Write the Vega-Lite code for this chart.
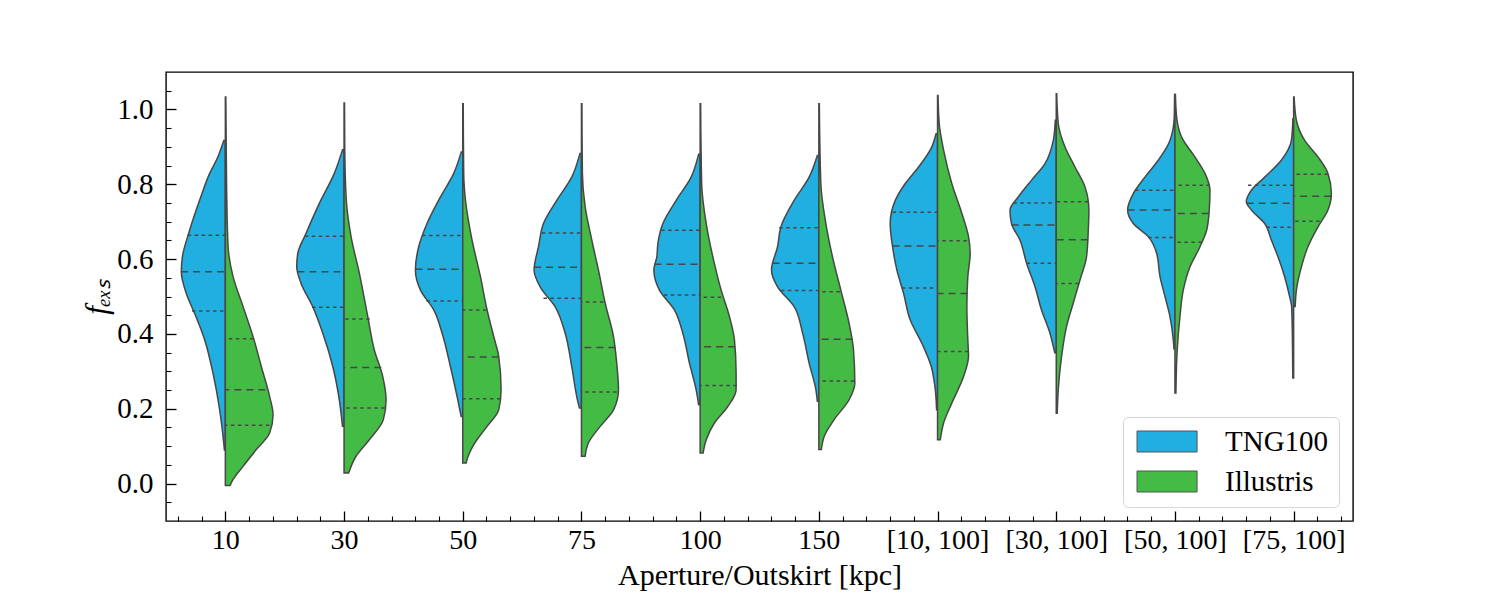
{
  "$schema": "https://vega.github.io/schema/vega-lite/v6.json",
  "width": 1187,
  "height": 449,
  "autosize": {"type": "none"},
  "padding": {"left": 166, "top": 72, "right": 154, "bottom": 75},
  "background": "white",
  "config": {
    "view": {"stroke": "black", "strokeWidth": 1.4},
    "font": "Liberation Serif"
  },
  "datasets": {
    "violins": [
      {"i":0,"g":"TNG100","f":0.917,"x":-0.013},{"i":0,"g":"TNG100","f":0.87,"x":-0.067},{"i":0,"g":"TNG100","f":0.829,"x":-0.132},{"i":0,"g":"TNG100","f":0.757,"x":-0.217},{"i":0,"g":"TNG100","f":0.677,"x":-0.301},{"i":0,"g":"TNG100","f":0.606,"x":-0.362},{"i":0,"g":"TNG100","f":0.566,"x":-0.371},{"i":0,"g":"TNG100","f":0.508,"x":-0.329},{"i":0,"g":"TNG100","f":0.455,"x":-0.259},{"i":0,"g":"TNG100","f":0.384,"x":-0.174},{"i":0,"g":"TNG100","f":0.295,"x":-0.104},{"i":0,"g":"TNG100","f":0.197,"x":-0.048},{"i":0,"g":"TNG100","f":0.1,"x":-0.011},{"i":0,"g":"TNG100","f":0.09,"x":-0.008},
      {"i":0,"g":"Illustris","f":1.033,"x":0.004},{"i":0,"g":"Illustris","f":0.962,"x":0.006},{"i":0,"g":"Illustris","f":0.784,"x":0.011},{"i":0,"g":"Illustris","f":0.633,"x":0.023},{"i":0,"g":"Illustris","f":0.553,"x":0.065},{"i":0,"g":"Illustris","f":0.473,"x":0.149},{"i":0,"g":"Illustris","f":0.388,"x":0.238},{"i":0,"g":"Illustris","f":0.313,"x":0.303},{"i":0,"g":"Illustris","f":0.233,"x":0.373},{"i":0,"g":"Illustris","f":0.184,"x":0.402},{"i":0,"g":"Illustris","f":0.135,"x":0.373},{"i":0,"g":"Illustris","f":0.091,"x":0.261},{"i":0,"g":"Illustris","f":0.046,"x":0.149},{"i":0,"g":"Illustris","f":0.011,"x":0.065},{"i":0,"g":"Illustris","f":-0.005,"x":0.04},
      {"i":1,"g":"TNG100","f":0.892,"x":0.987},{"i":1,"g":"TNG100","f":0.829,"x":0.918},{"i":1,"g":"TNG100","f":0.749,"x":0.792},{"i":1,"g":"TNG100","f":0.669,"x":0.68},{"i":1,"g":"TNG100","f":0.615,"x":0.61},{"i":1,"g":"TNG100","f":0.58,"x":0.601},{"i":1,"g":"TNG100","f":0.535,"x":0.638},{"i":1,"g":"TNG100","f":0.473,"x":0.736},{"i":1,"g":"TNG100","f":0.402,"x":0.821},{"i":1,"g":"TNG100","f":0.313,"x":0.905},{"i":1,"g":"TNG100","f":0.224,"x":0.96},{"i":1,"g":"TNG100","f":0.153,"x":0.987},
      {"i":1,"g":"Illustris","f":1.017,"x":1.004},{"i":1,"g":"Illustris","f":0.893,"x":1.006},{"i":1,"g":"Illustris","f":0.757,"x":1.019},{"i":1,"g":"Illustris","f":0.66,"x":1.059},{"i":1,"g":"Illustris","f":0.562,"x":1.129},{"i":1,"g":"Illustris","f":0.446,"x":1.2},{"i":1,"g":"Illustris","f":0.357,"x":1.255},{"i":1,"g":"Illustris","f":0.286,"x":1.326},{"i":1,"g":"Illustris","f":0.224,"x":1.354},{"i":1,"g":"Illustris","f":0.171,"x":1.331},{"i":1,"g":"Illustris","f":0.117,"x":1.213},{"i":1,"g":"Illustris","f":0.073,"x":1.101},{"i":1,"g":"Illustris","f":0.028,"x":1.038},
      {"i":2,"g":"TNG100","f":0.886,"x":1.987},{"i":2,"g":"TNG100","f":0.829,"x":1.924},{"i":2,"g":"TNG100","f":0.766,"x":1.812},{"i":2,"g":"TNG100","f":0.695,"x":1.699},{"i":2,"g":"TNG100","f":0.633,"x":1.629},{"i":2,"g":"TNG100","f":0.571,"x":1.601},{"i":2,"g":"TNG100","f":0.517,"x":1.644},{"i":2,"g":"TNG100","f":0.464,"x":1.756},{"i":2,"g":"TNG100","f":0.402,"x":1.826},{"i":2,"g":"TNG100","f":0.313,"x":1.896},{"i":2,"g":"TNG100","f":0.233,"x":1.952},{"i":2,"g":"TNG100","f":0.179,"x":1.987},
      {"i":2,"g":"Illustris","f":1.015,"x":2.004},{"i":2,"g":"Illustris","f":0.829,"x":2.008},{"i":2,"g":"Illustris","f":0.757,"x":2.023},{"i":2,"g":"Illustris","f":0.651,"x":2.078},{"i":2,"g":"Illustris","f":0.553,"x":2.149},{"i":2,"g":"Illustris","f":0.464,"x":2.205},{"i":2,"g":"Illustris","f":0.393,"x":2.261},{"i":2,"g":"Illustris","f":0.34,"x":2.303},{"i":2,"g":"Illustris","f":0.251,"x":2.323},{"i":2,"g":"Illustris","f":0.197,"x":2.303},{"i":2,"g":"Illustris","f":0.153,"x":2.205},{"i":2,"g":"Illustris","f":0.104,"x":2.093},{"i":2,"g":"Illustris","f":0.064,"x":2.036},{"i":2,"g":"Illustris","f":0.055,"x":2.029},
      {"i":3,"g":"TNG100","f":0.882,"x":2.987},{"i":3,"g":"TNG100","f":0.819,"x":2.918},{"i":3,"g":"TNG100","f":0.757,"x":2.792},{"i":3,"g":"TNG100","f":0.695,"x":2.68},{"i":3,"g":"TNG100","f":0.633,"x":2.638},{"i":3,"g":"TNG100","f":0.571,"x":2.601},{"i":3,"g":"TNG100","f":0.526,"x":2.652},{"i":3,"g":"TNG100","f":0.473,"x":2.778},{"i":3,"g":"TNG100","f":0.402,"x":2.863},{"i":3,"g":"TNG100","f":0.313,"x":2.918},{"i":3,"g":"TNG100","f":0.224,"x":2.966},{"i":3,"g":"TNG100","f":0.202,"x":2.983},
      {"i":3,"g":"Illustris","f":1.015,"x":3.004},{"i":3,"g":"Illustris","f":0.829,"x":3.008},{"i":3,"g":"Illustris","f":0.74,"x":3.031},{"i":3,"g":"Illustris","f":0.651,"x":3.087},{"i":3,"g":"Illustris","f":0.571,"x":3.143},{"i":3,"g":"Illustris","f":0.482,"x":3.2},{"i":3,"g":"Illustris","f":0.393,"x":3.27},{"i":3,"g":"Illustris","f":0.322,"x":3.297},{"i":3,"g":"Illustris","f":0.251,"x":3.312},{"i":3,"g":"Illustris","f":0.197,"x":3.27},{"i":3,"g":"Illustris","f":0.153,"x":3.158},{"i":3,"g":"Illustris","f":0.109,"x":3.059},{"i":3,"g":"Illustris","f":0.073,"x":3.031},
      {"i":4,"g":"TNG100","f":0.88,"x":3.987},{"i":4,"g":"TNG100","f":0.819,"x":3.924},{"i":4,"g":"TNG100","f":0.757,"x":3.798},{"i":4,"g":"TNG100","f":0.695,"x":3.686},{"i":4,"g":"TNG100","f":0.642,"x":3.644},{"i":4,"g":"TNG100","f":0.606,"x":3.635},{"i":4,"g":"TNG100","f":0.571,"x":3.61},{"i":4,"g":"TNG100","f":0.517,"x":3.657},{"i":4,"g":"TNG100","f":0.464,"x":3.783},{"i":4,"g":"TNG100","f":0.402,"x":3.854},{"i":4,"g":"TNG100","f":0.322,"x":3.91},{"i":4,"g":"TNG100","f":0.251,"x":3.966},{"i":4,"g":"TNG100","f":0.211,"x":3.987},
      {"i":4,"g":"Illustris","f":1.015,"x":4.004},{"i":4,"g":"Illustris","f":0.8,"x":4.013},{"i":4,"g":"Illustris","f":0.695,"x":4.051},{"i":4,"g":"Illustris","f":0.606,"x":4.107},{"i":4,"g":"Illustris","f":0.517,"x":4.177},{"i":4,"g":"Illustris","f":0.446,"x":4.247},{"i":4,"g":"Illustris","f":0.384,"x":4.289},{"i":4,"g":"Illustris","f":0.295,"x":4.303},{"i":4,"g":"Illustris","f":0.251,"x":4.303},{"i":4,"g":"Illustris","f":0.206,"x":4.233},{"i":4,"g":"Illustris","f":0.162,"x":4.12},{"i":4,"g":"Illustris","f":0.117,"x":4.051},{"i":4,"g":"Illustris","f":0.082,"x":4.025},
      {"i":5,"g":"TNG100","f":0.877,"x":4.987},{"i":5,"g":"TNG100","f":0.819,"x":4.918},{"i":5,"g":"TNG100","f":0.757,"x":4.792},{"i":5,"g":"TNG100","f":0.686,"x":4.68},{"i":5,"g":"TNG100","f":0.633,"x":4.652},{"i":5,"g":"TNG100","f":0.571,"x":4.601},{"i":5,"g":"TNG100","f":0.526,"x":4.652},{"i":5,"g":"TNG100","f":0.473,"x":4.792},{"i":5,"g":"TNG100","f":0.402,"x":4.863},{"i":5,"g":"TNG100","f":0.322,"x":4.918},{"i":5,"g":"TNG100","f":0.251,"x":4.975},{"i":5,"g":"TNG100","f":0.22,"x":4.987},
      {"i":5,"g":"Illustris","f":1.015,"x":5.004},{"i":5,"g":"Illustris","f":0.8,"x":5.017},{"i":5,"g":"Illustris","f":0.695,"x":5.059},{"i":5,"g":"Illustris","f":0.606,"x":5.115},{"i":5,"g":"Illustris","f":0.517,"x":5.185},{"i":5,"g":"Illustris","f":0.428,"x":5.255},{"i":5,"g":"Illustris","f":0.357,"x":5.292},{"i":5,"g":"Illustris","f":0.268,"x":5.303},{"i":5,"g":"Illustris","f":0.224,"x":5.255},{"i":5,"g":"Illustris","f":0.171,"x":5.129},{"i":5,"g":"Illustris","f":0.126,"x":5.045},{"i":5,"g":"Illustris","f":0.091,"x":5.021},
      {"i":6,"g":"TNG100","f":0.935,"x":5.987},{"i":6,"g":"TNG100","f":0.9,"x":5.952},{"i":6,"g":"TNG100","f":0.846,"x":5.84},{"i":6,"g":"TNG100","f":0.802,"x":5.728},{"i":6,"g":"TNG100","f":0.757,"x":5.644},{"i":6,"g":"TNG100","f":0.695,"x":5.601},{"i":6,"g":"TNG100","f":0.633,"x":5.621},{"i":6,"g":"TNG100","f":0.571,"x":5.657},{"i":6,"g":"TNG100","f":0.508,"x":5.714},{"i":6,"g":"TNG100","f":0.437,"x":5.77},{"i":6,"g":"TNG100","f":0.375,"x":5.868},{"i":6,"g":"TNG100","f":0.313,"x":5.947},{"i":6,"g":"TNG100","f":0.251,"x":5.981},{"i":6,"g":"TNG100","f":0.197,"x":5.992},
      {"i":6,"g":"Illustris","f":1.037,"x":6.004},{"i":6,"g":"Illustris","f":0.962,"x":6.014},{"i":6,"g":"Illustris","f":0.891,"x":6.051},{"i":6,"g":"Illustris","f":0.802,"x":6.12},{"i":6,"g":"Illustris","f":0.722,"x":6.205},{"i":6,"g":"Illustris","f":0.66,"x":6.261},{"i":6,"g":"Illustris","f":0.615,"x":6.275},{"i":6,"g":"Illustris","f":0.553,"x":6.255},{"i":6,"g":"Illustris","f":0.473,"x":6.247},{"i":6,"g":"Illustris","f":0.384,"x":6.255},{"i":6,"g":"Illustris","f":0.34,"x":6.261},{"i":6,"g":"Illustris","f":0.286,"x":6.219},{"i":6,"g":"Illustris","f":0.215,"x":6.12},{"i":6,"g":"Illustris","f":0.162,"x":6.051},{"i":6,"g":"Illustris","f":0.117,"x":6.023},
      {"i":7,"g":"TNG100","f":0.971,"x":6.992},{"i":7,"g":"TNG100","f":0.917,"x":6.975},{"i":7,"g":"TNG100","f":0.855,"x":6.905},{"i":7,"g":"TNG100","f":0.811,"x":6.792},{"i":7,"g":"TNG100","f":0.766,"x":6.68},{"i":7,"g":"TNG100","f":0.731,"x":6.61},{"i":7,"g":"TNG100","f":0.695,"x":6.623},{"i":7,"g":"TNG100","f":0.651,"x":6.694},{"i":7,"g":"TNG100","f":0.589,"x":6.75},{"i":7,"g":"TNG100","f":0.526,"x":6.821},{"i":7,"g":"TNG100","f":0.464,"x":6.876},{"i":7,"g":"TNG100","f":0.402,"x":6.947},{"i":7,"g":"TNG100","f":0.35,"x":6.987},
      {"i":7,"g":"Illustris","f":1.042,"x":7.004},{"i":7,"g":"Illustris","f":0.962,"x":7.017},{"i":7,"g":"Illustris","f":0.9,"x":7.073},{"i":7,"g":"Illustris","f":0.846,"x":7.158},{"i":7,"g":"Illustris","f":0.793,"x":7.242},{"i":7,"g":"Illustris","f":0.731,"x":7.275},{"i":7,"g":"Illustris","f":0.677,"x":7.27},{"i":7,"g":"Illustris","f":0.606,"x":7.255},{"i":7,"g":"Illustris","f":0.544,"x":7.2},{"i":7,"g":"Illustris","f":0.482,"x":7.143},{"i":7,"g":"Illustris","f":0.42,"x":7.087},{"i":7,"g":"Illustris","f":0.34,"x":7.045},{"i":7,"g":"Illustris","f":0.251,"x":7.017},{"i":7,"g":"Illustris","f":0.188,"x":7.008},
      {"i":8,"g":"TNG100","f":1.04,"x":7.997},{"i":8,"g":"TNG100","f":0.98,"x":7.994},{"i":8,"g":"TNG100","f":0.917,"x":7.958},{"i":8,"g":"TNG100","f":0.864,"x":7.859},{"i":8,"g":"TNG100","f":0.819,"x":7.747},{"i":8,"g":"TNG100","f":0.775,"x":7.649},{"i":8,"g":"TNG100","f":0.731,"x":7.601},{"i":8,"g":"TNG100","f":0.695,"x":7.649},{"i":8,"g":"TNG100","f":0.66,"x":7.775},{"i":8,"g":"TNG100","f":0.615,"x":7.846},{"i":8,"g":"TNG100","f":0.553,"x":7.874},{"i":8,"g":"TNG100","f":0.5,"x":7.916},{"i":8,"g":"TNG100","f":0.446,"x":7.958},{"i":8,"g":"TNG100","f":0.384,"x":7.986},{"i":8,"g":"TNG100","f":0.36,"x":7.992},
      {"i":8,"g":"Illustris","f":1.04,"x":8.004},{"i":8,"g":"Illustris","f":0.98,"x":8.014},{"i":8,"g":"Illustris","f":0.926,"x":8.056},{"i":8,"g":"Illustris","f":0.873,"x":8.168},{"i":8,"g":"Illustris","f":0.829,"x":8.253},{"i":8,"g":"Illustris","f":0.784,"x":8.295},{"i":8,"g":"Illustris","f":0.731,"x":8.289},{"i":8,"g":"Illustris","f":0.677,"x":8.267},{"i":8,"g":"Illustris","f":0.633,"x":8.211},{"i":8,"g":"Illustris","f":0.579,"x":8.126},{"i":8,"g":"Illustris","f":0.517,"x":8.07},{"i":8,"g":"Illustris","f":0.446,"x":8.042},{"i":8,"g":"Illustris","f":0.357,"x":8.019},{"i":8,"g":"Illustris","f":0.242,"x":8.008},
      {"i":9,"g":"TNG100","f":0.975,"x":8.994},{"i":9,"g":"TNG100","f":0.917,"x":8.981},{"i":9,"g":"TNG100","f":0.864,"x":8.896},{"i":9,"g":"TNG100","f":0.819,"x":8.756},{"i":9,"g":"TNG100","f":0.784,"x":8.644},{"i":9,"g":"TNG100","f":0.753,"x":8.601},{"i":9,"g":"TNG100","f":0.731,"x":8.644},{"i":9,"g":"TNG100","f":0.695,"x":8.756},{"i":9,"g":"TNG100","f":0.651,"x":8.812},{"i":9,"g":"TNG100","f":0.606,"x":8.868},{"i":9,"g":"TNG100","f":0.553,"x":8.924},{"i":9,"g":"TNG100","f":0.5,"x":8.966},{"i":9,"g":"TNG100","f":0.473,"x":8.983},{"i":9,"g":"TNG100","f":0.38,"x":8.99},{"i":9,"g":"TNG100","f":0.282,"x":8.993},
      {"i":9,"g":"Illustris","f":1.033,"x":9.004},{"i":9,"g":"Illustris","f":0.971,"x":9.023},{"i":9,"g":"Illustris","f":0.917,"x":9.093},{"i":9,"g":"Illustris","f":0.873,"x":9.205},{"i":9,"g":"Illustris","f":0.829,"x":9.289},{"i":9,"g":"Illustris","f":0.775,"x":9.318},{"i":9,"g":"Illustris","f":0.731,"x":9.289},{"i":9,"g":"Illustris","f":0.686,"x":9.205},{"i":9,"g":"Illustris","f":0.633,"x":9.12},{"i":9,"g":"Illustris","f":0.579,"x":9.065},{"i":9,"g":"Illustris","f":0.517,"x":9.023},{"i":9,"g":"Illustris","f":0.473,"x":9.013}
    ],
    "quartiles": [
      {"i":0,"q":"q","f":0.664,"x":-0.318},{"i":0,"q":"m","f":0.566,"x":-0.373},{"i":0,"q":"q","f":0.461,"x":-0.281},
      {"i":0,"q":"q","f":0.387,"x":0.236},{"i":0,"q":"m","f":0.251,"x":0.337},{"i":0,"q":"q","f":0.156,"x":0.371},
      {"i":1,"q":"q","f":0.661,"x":0.669},{"i":1,"q":"m","f":0.566,"x":0.607},{"i":1,"q":"q","f":0.471,"x":0.73},
      {"i":1,"q":"q","f":0.44,"x":1.216},{"i":1,"q":"m","f":0.31,"x":1.314},{"i":1,"q":"q","f":0.202,"x":1.343},
      {"i":2,"q":"q","f":0.663,"x":1.657},{"i":2,"q":"m","f":0.573,"x":1.601},{"i":2,"q":"q","f":0.488,"x":1.694},
      {"i":2,"q":"q","f":0.464,"x":2.2},{"i":2,"q":"m","f":0.338,"x":2.303},{"i":2,"q":"q","f":0.227,"x":2.318},
      {"i":3,"q":"q","f":0.67,"x":2.666},{"i":3,"q":"m","f":0.578,"x":2.601},{"i":3,"q":"q","f":0.495,"x":2.68},
      {"i":3,"q":"q","f":0.485,"x":3.185},{"i":3,"q":"m","f":0.364,"x":3.286},{"i":3,"q":"q","f":0.245,"x":3.297},
      {"i":4,"q":"q","f":0.677,"x":3.671},{"i":4,"q":"m","f":0.586,"x":3.615},{"i":4,"q":"q","f":0.504,"x":3.694},
      {"i":4,"q":"q","f":0.498,"x":4.177},{"i":4,"q":"m","f":0.366,"x":4.295},{"i":4,"q":"q","f":0.262,"x":4.309},
      {"i":5,"q":"q","f":0.684,"x":4.666},{"i":5,"q":"m","f":0.589,"x":4.61},{"i":5,"q":"q","f":0.516,"x":4.68},
      {"i":5,"q":"q","f":0.513,"x":5.177},{"i":5,"q":"m","f":0.386,"x":5.284},{"i":5,"q":"q","f":0.274,"x":5.297},
      {"i":6,"q":"q","f":0.725,"x":5.621},{"i":6,"q":"m","f":0.635,"x":5.621},{"i":6,"q":"q","f":0.523,"x":5.699},
      {"i":6,"q":"q","f":0.649,"x":6.247},{"i":6,"q":"m","f":0.508,"x":6.253},{"i":6,"q":"q","f":0.353,"x":6.261},
      {"i":7,"q":"q","f":0.75,"x":6.638},{"i":7,"q":"m","f":0.691,"x":6.623},{"i":7,"q":"q","f":0.589,"x":6.75},
      {"i":7,"q":"q","f":0.753,"x":7.27},{"i":7,"q":"m","f":0.652,"x":7.265},{"i":7,"q":"q","f":0.535,"x":7.191},
      {"i":8,"q":"q","f":0.784,"x":7.663},{"i":8,"q":"m","f":0.731,"x":7.601},{"i":8,"q":"q","f":0.658,"x":7.775},
      {"i":8,"q":"q","f":0.797,"x":8.295},{"i":8,"q":"m","f":0.722,"x":8.286},{"i":8,"q":"q","f":0.645,"x":8.227},
      {"i":9,"q":"q","f":0.797,"x":8.615},{"i":9,"q":"m","f":0.749,"x":8.604},{"i":9,"q":"q","f":0.685,"x":8.77},
      {"i":9,"q":"q","f":0.827,"x":9.289},{"i":9,"q":"m","f":0.768,"x":9.316},{"i":9,"q":"q","f":0.701,"x":9.219}
    ]
  },
  "layer": [
    {
      "data": {"name": "violins"},
      "mark": {"type": "area", "orient": "horizontal", "interpolate": "monotone", "stroke": "#474747", "strokeWidth": 1.5, "opacity": 1, "fillOpacity": 1},
      "encoding": {
        "y": {"field": "f", "type": "quantitative", "scale": {"domain": [-0.1, 1.1], "nice": false, "zero": false},
          "axis": {"orient": "left", "values": [0, 0.2, 0.4, 0.6, 0.8, 1.0], "format": ".1f", "tickSize": -10, "tickColor": "black", "tickWidth": 1.3, "domain": false, "grid": false,
            "labelFont": "Liberation Serif", "labelFontSize": 29, "labelColor": "black", "labelPadding": 23,
            "title": "fₑₓₛ", "titleFont": "Liberation Serif", "titleFontSize": 31, "titleFontStyle": "italic", "titleFontWeight": "normal", "titleColor": "black", "titlePadding": 3}},
        "x": {"field": "x", "type": "quantitative", "stack": null, "scale": {"domain": [-0.5, 9.5], "nice": false, "zero": false},
          "axis": {"orient": "bottom", "values": [0, 1, 2, 3, 4, 5, 6, 7, 8, 9],
            "labelExpr": "['10','30','50','75','100','150','[10, 100]','[30, 100]','[50, 100]','[75, 100]'][datum.value]",
            "tickSize": -10, "tickColor": "black", "tickWidth": 1.3, "domain": false, "grid": false,
            "labelFont": "Liberation Serif", "labelFontSize": 28, "labelColor": "black", "labelPadding": 15,
            "title": "Aperture/Outskirt [kpc]", "titleFont": "Liberation Serif", "titleFontSize": 30, "titleFontWeight": "normal", "titleColor": "black", "titlePadding": 6}},
        "x2": {"field": "i"},
        "color": {"field": "g", "type": "nominal",
          "scale": {"domain": ["TNG100", "Illustris"], "range": ["#21aee0", "#44bb44"]},
          "legend": {"orient": "bottom-right", "offset": 14, "title": null,
            "symbolType": "M-1,-1H4.72V1H-1Z", "symbolSize": 441, "symbolStrokeColor": "#555", "symbolStrokeWidth": 1, "symbolOpacity": 1,
            "labelFont": "Liberation Serif", "labelFontSize": 29, "labelColor": "black", "labelOffset": 63,
            "fillColor": "white", "strokeColor": "#d6d6d6", "cornerRadius": 5, "padding": 10, "rowPadding": 10}},
        "detail": {"field": "i", "type": "nominal"}
      }
    },
    {
      "data": {"name": "quartiles"},
      "mark": {"type": "rule", "color": "#474747", "strokeWidth": 1.5},
      "encoding": {
        "y": {"field": "f", "type": "quantitative",
          "axis": {"orient": "left", "values": [-0.05, 0, 0.05, 0.1, 0.15, 0.2, 0.25, 0.3, 0.35, 0.4, 0.45, 0.5, 0.55, 0.6, 0.65, 0.7, 0.75, 0.8, 0.85, 0.9, 0.95, 1.0, 1.05],
            "labels": false, "tickSize": -5, "tickColor": "black", "tickWidth": 1.1, "domain": false, "grid": false, "title": null}},
        "x": {"field": "x", "type": "quantitative",
          "axis": {"orient": "bottom", "values": [-0.4, -0.2, 0.2, 0.4, 0.6, 0.8, 1.2, 1.4, 1.6, 1.8, 2.2, 2.4, 2.6, 2.8, 3.2, 3.4, 3.6, 3.8, 4.2, 4.4, 4.6, 4.8, 5.2, 5.4, 5.6, 5.8, 6.2, 6.4, 6.6, 6.8, 7.2, 7.4, 7.6, 7.8, 8.2, 8.4, 8.6, 8.8, 9.2, 9.4],
            "labels": false, "tickSize": -5, "tickColor": "black", "tickWidth": 1.1, "domain": false, "grid": false, "title": null}},
        "x2": {"field": "i"},
        "strokeDash": {"field": "q", "type": "nominal", "scale": {"domain": ["m", "q"], "range": [[7, 5], [3.5, 3.5]]}, "legend": null}
      }
    }
  ],
  "resolve": {"axis": {"x": "independent", "y": "independent"}}
}
